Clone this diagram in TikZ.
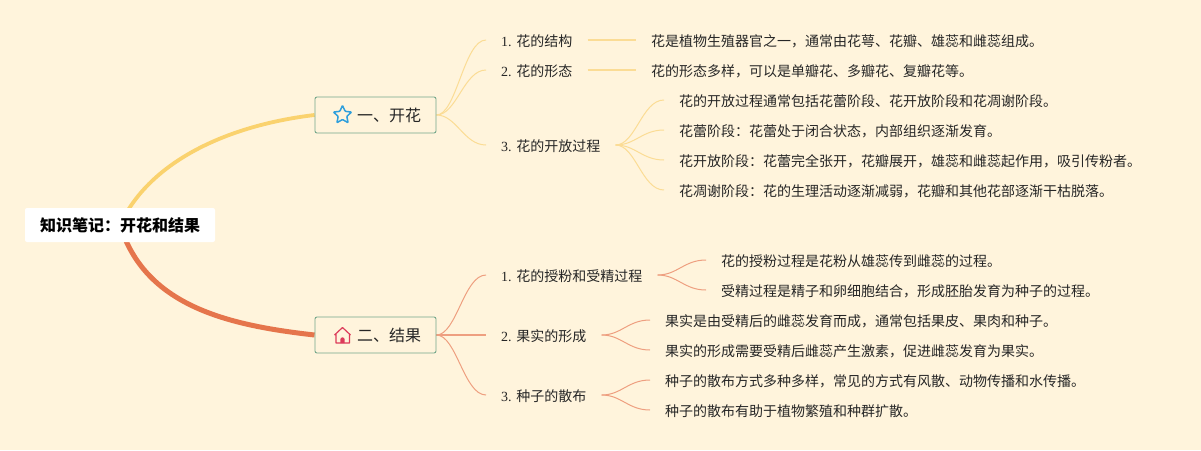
\documentclass[tikz,border=0pt]{standalone}
\usepackage{fontspec}
\setmainfont{Noto Sans CJK SC}
\newfontfamily\latinnum{Liberation Serif}
\usetikzlibrary{shapes.geometric,backgrounds}
\definecolor{bgc}{HTML}{FFF4DC}
\definecolor{yel}{HTML}{FAD26E}
\definecolor{ora}{HTML}{E5754C}
\definecolor{yelthin}{HTML}{FBDC95}
\definecolor{orathin}{HTML}{EE9F80}
\definecolor{boxedge}{HTML}{74A78A}
\definecolor{ink}{HTML}{262626}
\definecolor{starc}{HTML}{2F9FDC}
\definecolor{housec}{HTML}{DC3B5A}
\tikzset{
  lab/.style={anchor=west,inner xsep=15pt,inner ysep=0pt,text height=12pt,text depth=0pt,text=ink,font=\fontsize{14}{14}\selectfont},
  topicbox/.style={draw=boxedge,line width=0.9pt,fill=bgc,rounded corners=2pt,minimum width=121pt,minimum height=36pt,inner xsep=15pt,inner ysep=0pt,text width=91pt,align=right,text=ink,font=\fontsize{16}{16}\selectfont},
  rootbox/.style={fill=white,rounded corners=2pt,minimum width=190pt,minimum height=34pt,inner sep=0pt,font=\fontsize{16}{16}\selectfont\bfseries,text=black},
  thick yel/.style={draw=yel,line width=3.8pt},
  thick ora/.style={draw=ora,line width=5pt},
  twigy/.style={draw=yelthin,line width=1pt},
  twigo/.style={draw=orathin,line width=1pt},
  straightwig/.style={line width=1.6pt},
  sc/.style={out=0,in=180,out distance=20pt,in distance=22pt}
}
\newcommand{\nm}[1]{{\latinnum #1}}
\begin{document}
\begin{tikzpicture}[x=1pt,y=-1pt]
\useasboundingbox (0,0) rectangle (1201,450);

\node[rootbox] (root) at (120,225) {知识笔记：开花和结果};
\node[topicbox] (a) at (375.5,115) {一、开花};
\node[topicbox] (b) at (375.5,335) {二、结果};

\node[star,star points=5,star point ratio=2.1,draw=starc,line width=1.5pt,rounded corners=0.8pt,minimum size=19pt,inner sep=0pt] (staricon) at (342.5,115) {};

% first branch
\node[lab] (a1) at (486,40) {\nm{1. }花的结构};
\node[lab] (a2) at (486,70) {\nm{2. }花的形态};
\node[lab] (a3) at (486,145) {\nm{3. }花的开放过程};
\node[lab] (a11) at (636,40) {花是植物生殖器官之一，通常由花萼、花瓣、雄蕊和雌蕊组成。};
\node[lab] (a21) at (636,70) {花的形态多样，可以是单瓣花、多瓣花、复瓣花等。};
\node[lab] (a31) at (664,100) {花的开放过程通常包括花蕾阶段、花开放阶段和花凋谢阶段。};
\node[lab] (a32) at (664,130) {花蕾阶段：花蕾处于闭合状态，内部组织逐渐发育。};
\node[lab] (a33) at (664,160) {花开放阶段：花蕾完全张开，花瓣展开，雄蕊和雌蕊起作用，吸引传粉者。};
\node[lab] (a34) at (664,190) {花凋谢阶段：花的生理活动逐渐减弱，花瓣和其他花部逐渐干枯脱落。};

% second branch
\node[lab] (b1) at (486,275) {\nm{1. }花的授粉和受精过程};
\node[lab] (b2) at (486,335) {\nm{2. }果实的形成};
\node[lab] (b3) at (486,395) {\nm{3. }种子的散布};
\node[lab] (b11) at (706,260) {花的授粉过程是花粉从雄蕊传到雌蕊的过程。};
\node[lab] (b12) at (706,290) {受精过程是精子和卵细胞结合，形成胚胎发育为种子的过程。};
\node[lab] (b21) at (650,320) {果实是由受精后的雌蕊发育而成，通常包括果皮、果肉和种子。};
\node[lab] (b22) at (650,350) {果实的形成需要受精后雌蕊产生激素，促进雌蕊发育为果实。};
\node[lab] (b31) at (650,380) {种子的散布方式多种多样，常见的方式有风散、动物传播和水传播。};
\node[lab] (b32) at (650,410) {种子的散布有助于植物繁殖和种群扩散。};

% house icon
\draw[housec,line width=1.2pt,line join=round] (334.5,335) -- (342.5,327.5) -- (350.5,335) (336,334) -- (336,343) -- (349.5,343) -- (349.5,334);
\fill[housec] (340.3,343) -- (340.3,339.5) arc[start angle=180,end angle=0,radius=2.2pt] -- (344.7,343) -- cycle;

\begin{pgfonlayer}{background}
\fill[bgc] (0,0) rectangle (1201,450);
\draw[thick yel] (root.center) .. controls (150,160) and (230,125) .. (a.west);
\draw[thick ora] (root.center) .. controls (145,305) and (225,325) .. (b.west);

\draw[twigy] (a.east) to[sc] (a1.west);
\draw[twigy] (a.east) to[sc] (a2.west);
\draw[twigy] (a.east) to[sc] (a3.west);
\draw[twigy,straightwig] (a1.east) -- (a11.west);
\draw[twigy,straightwig] (a2.east) -- (a21.west);
\draw[twigy] (a3.east) to[sc] (a31.west);
\draw[twigy] (a3.east) to[sc] (a32.west);
\draw[twigy] (a3.east) to[sc] (a33.west);
\draw[twigy] (a3.east) to[sc] (a34.west);

\draw[twigo] (b.east) to[sc] (b1.west);
\draw[twigo,straightwig] (b.east) -- (b2.west);
\draw[twigo] (b.east) to[sc] (b3.west);
\draw[twigo] (b1.east) to[sc] (b11.west);
\draw[twigo] (b1.east) to[sc] (b12.west);
\draw[twigo] (b2.east) to[sc] (b21.west);
\draw[twigo] (b2.east) to[sc] (b22.west);
\draw[twigo] (b3.east) to[sc] (b31.west);
\draw[twigo] (b3.east) to[sc] (b32.west);
\end{pgfonlayer}
\end{tikzpicture}
\end{document}
